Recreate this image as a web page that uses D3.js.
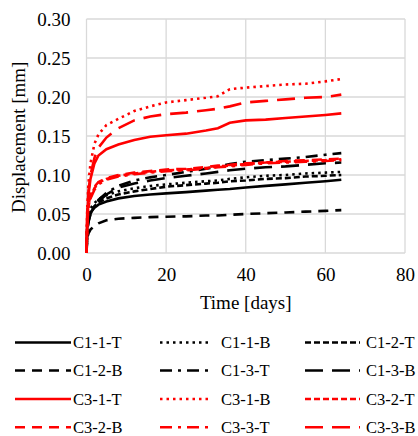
<!DOCTYPE html>
<html><head><meta charset="utf-8">
<script src="https://cdn.jsdelivr.net/npm/d3@7"></script>
<style>body{margin:0;background:#fff}svg{display:block}</style>
</head><body>
<script>
const times = [0, 0.2, 0.5, 1, 2, 3, 5, 8, 12, 16, 20, 25, 30, 33, 36, 40, 45, 50, 55, 60, 64];
const c1_1_T = [0, 0.035, 0.045, 0.052, 0.058, 0.062, 0.066, 0.070, 0.073, 0.075, 0.0765, 0.078, 0.080, 0.081, 0.082, 0.084, 0.086, 0.088, 0.090, 0.092, 0.094];
const c1_1_B = [0, 0.040, 0.050, 0.057, 0.064, 0.069, 0.074, 0.079, 0.083, 0.086, 0.088, 0.090, 0.092, 0.093, 0.095, 0.097, 0.099, 0.100, 0.102, 0.103, 0.104];
const c1_2_T = [0, 0.035, 0.046, 0.053, 0.060, 0.065, 0.070, 0.075, 0.079, 0.082, 0.085, 0.087, 0.089, 0.090, 0.092, 0.093, 0.095, 0.096, 0.098, 0.099, 0.100];
const c1_2_B = [0, 0.020, 0.025, 0.030, 0.035, 0.038, 0.042, 0.044, 0.045, 0.046, 0.0465, 0.047, 0.048, 0.048, 0.049, 0.050, 0.051, 0.052, 0.053, 0.054, 0.055];
const c1_3_T = [0, 0.030, 0.040, 0.050, 0.060, 0.068, 0.077, 0.086, 0.093, 0.097, 0.100, 0.104, 0.108, 0.111, 0.114, 0.117, 0.119, 0.121, 0.123, 0.126, 0.128];
const c1_3_B = [0, 0.030, 0.040, 0.050, 0.060, 0.066, 0.075, 0.084, 0.089, 0.093, 0.096, 0.099, 0.102, 0.104, 0.106, 0.108, 0.110, 0.111, 0.113, 0.115, 0.116];
const c3_1_T = [0, 0.050, 0.075, 0.095, 0.115, 0.125, 0.133, 0.139, 0.145, 0.149, 0.151, 0.153, 0.157, 0.160, 0.167, 0.170, 0.171, 0.173, 0.175, 0.177, 0.179];
const c3_1_B = [0, 0.060, 0.090, 0.115, 0.140, 0.152, 0.164, 0.172, 0.182, 0.188, 0.193, 0.196, 0.199, 0.201, 0.210, 0.212, 0.214, 0.216, 0.217, 0.220, 0.223];
const c3_2_T = [0, 0.040, 0.060, 0.072, 0.083, 0.090, 0.095, 0.099, 0.102, 0.104, 0.106, 0.107, 0.109, 0.111, 0.112, 0.114, 0.116, 0.117, 0.118, 0.119, 0.120];
const c3_2_B = [0, 0.042, 0.062, 0.074, 0.085, 0.091, 0.096, 0.100, 0.103, 0.105, 0.107, 0.108, 0.110, 0.112, 0.113, 0.115, 0.116, 0.118, 0.119, 0.120, 0.121];
const c3_3_T = [0, 0.038, 0.058, 0.070, 0.081, 0.088, 0.094, 0.098, 0.101, 0.103, 0.105, 0.106, 0.108, 0.110, 0.111, 0.113, 0.115, 0.116, 0.117, 0.118, 0.119];
const c3_3_B = [0, 0.055, 0.080, 0.100, 0.122, 0.135, 0.148, 0.160, 0.170, 0.175, 0.178, 0.180, 0.183, 0.185, 0.188, 0.193, 0.195, 0.197, 0.199, 0.200, 0.203];
const seriesNames = ["C1-1-T","C1-1-B","C1-2-T","C1-2-B","C1-3-T","C1-3-B","C3-1-T","C3-1-B","C3-2-T","C3-2-B","C3-3-T","C3-3-B"];
const seriesValues = [c1_1_T,c1_1_B,c1_2_T,c1_2_B,c1_3_T,c1_3_B,c3_1_T,c3_1_B,c3_2_T,c3_2_B,c3_3_T,c3_3_B];
const xTicks = [0, 20, 40, 60, 80];
const yTicks = [0, 0.05, 0.10, 0.15, 0.20, 0.25, 0.30];

const colors = ["#000","#000","#000","#000","#000","#000","#ff0000","#ff0000","#ff0000","#ff0000","#ff0000","#ff0000"];
const dashes = ["none","2.5,4","6,3","10,7","12,6,3,6","18,9","none","2.5,4","6,3","10,7","12,6,3,6","18,9"];

const W = 418, H = 436;
const svg = d3.select("body").append("svg").attr("width", W).attr("height", H);
const x = d3.scaleLinear().domain([0, 80]).range([86.5, 405]);
const y = d3.scaleLinear().domain([0, 0.30]).range([253, 19]);
const font = "Liberation Serif";

const g = svg.append("g");
g.selectAll("line.v").data(xTicks).join("line")
  .attr("x1", d => x(d)).attr("x2", d => x(d)).attr("y1", y(0)).attr("y2", y(0.30))
  .attr("stroke", "#d9d9d9").attr("stroke-width", 1.3);
g.selectAll("line.h").data(yTicks).join("line")
  .attr("x1", x(0)).attr("x2", x(80)).attr("y1", d => y(d)).attr("y2", d => y(d))
  .attr("stroke", "#d9d9d9").attr("stroke-width", 1.3);

const xAxis = svg.append("g").attr("transform", `translate(0,${y(0)})`)
  .call(d3.axisBottom(x).tickValues(xTicks).tickSize(0).tickPadding(15).tickFormat(d3.format("d")));
xAxis.select(".domain").remove();
xAxis.attr("font-family", font).attr("font-size", 19);
xAxis.selectAll("text").attr("fill", "#000");

const yAxis = svg.append("g").attr("transform", `translate(${x(0)},0)`)
  .call(d3.axisLeft(y).tickValues(yTicks).tickSize(0).tickPadding(16).tickFormat(d3.format(".2f")));
yAxis.select(".domain").remove();
yAxis.attr("font-family", font).attr("font-size", 19);
yAxis.selectAll("text").attr("fill", "#000");

svg.append("text").attr("x", x(40)).attr("y", 309).attr("text-anchor", "middle")
  .attr("font-family", font).attr("font-size", 19).text("Time [days]");
svg.append("text").attr("transform", "translate(25,213) rotate(-90)").attr("text-anchor", "start")
  .attr("font-family", font).attr("font-size", 19).text("Displacement [mm]");

const line = d3.line().x((d, i) => x(times[i])).y(d => y(d));
const lg = svg.append("g");
seriesValues.forEach((vals, k) => {
  lg.append("path").attr("d", line(vals)).attr("fill", "none")
    .attr("stroke", colors[k]).attr("stroke-width", 2.6)
    .attr("stroke-dasharray", dashes[k]);
});

const colX = [[15, 71, 73], [160, 212, 221], [305, 360, 366]];
const rowY = [342.5, 370.5, 399, 427.3];
const leg = svg.append("g");
seriesNames.forEach((name, k) => {
  const c = colX[k % 3], r = rowY[Math.floor(k / 3)];
  leg.append("line").attr("x1", c[0]).attr("x2", c[1]).attr("y1", r).attr("y2", r)
    .attr("stroke", colors[k]).attr("stroke-width", 2.6).attr("stroke-dasharray", dashes[k]);
  leg.append("text").attr("x", c[2]).attr("y", r + 5.5)
    .attr("font-family", font).attr("font-size", 16.5).text(name);
});
</script>
</body></html>
